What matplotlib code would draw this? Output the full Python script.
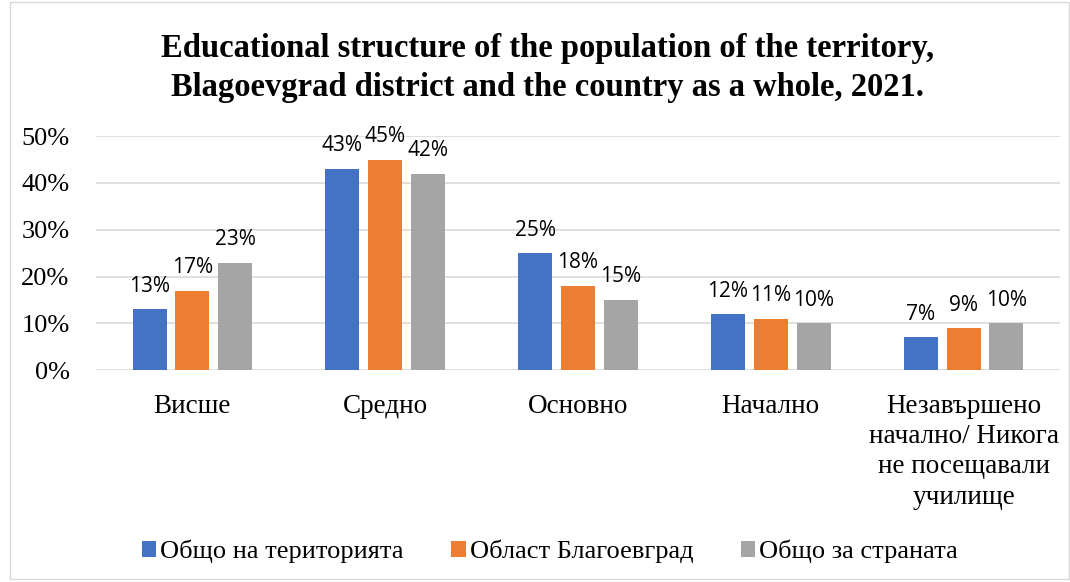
"""
grouped bar chart of the educational structure, Blagoevgrad 2021
"""

import numpy as np
import matplotlib.pyplot as plt
from matplotlib.patches import Rectangle

# data
CATEGORIES = ['Висше', 'Средно', 'Основно', 'Начално',
              'Незавършено\nначално/ Никога\nне посещавали\nучилище']
TERRITORY = [13, 43, 25, 12, 7]
DISTRICT = [17, 45, 18, 11, 9]
COUNTRY = [23, 42, 15, 10, 10]
SERIES_NAMES = ['Общо на територията', 'Област Благоевград', 'Общо за страната']
COLOURS = ['#4472c4', '#ed7d31', '#a5a5a5']

SERIF = 'Liberation Serif'
SANS = 'Open Sans'


def draw_chart(filename):
    fig = plt.figure(figsize=(10.7, 5.82), dpi=100)
    ax = fig.add_axes([0.0897, 0.364, 0.901, 0.402])

    x = np.arange(len(CATEGORIES))
    width = 0.176
    step = 0.222
    series = [TERRITORY, DISTRICT, COUNTRY]

    for i, (values, name, colour) in enumerate(zip(series, SERIES_NAMES, COLOURS)):
        pos = x + (i - 1) * step
        bars = ax.bar(pos, values, width, color=colour, label=name, zorder=3)
        for bar, v in zip(bars, values):
            ax.annotate(f'{v}%', (bar.get_x() + bar.get_width() / 2, v),
                        xytext=(0, 9), textcoords='offset points',
                        ha='center', va='bottom', fontsize=15,
                        family=SANS, color='#000000')

    ax.set_xlim(-0.5, len(CATEGORIES) - 0.5)
    ax.set_ylim(0, 50)
    ax.set_yticks(range(0, 51, 10))
    ax.set_yticklabels([f'{t}%' for t in range(0, 51, 10)],
                       family=SERIF, fontsize=19)
    ax.set_xticks(x)
    ax.set_xticklabels(CATEGORIES, family=SERIF, fontsize=19.5, linespacing=1.28)
    ax.tick_params(axis='x', length=0, pad=17)
    ax.tick_params(axis='y', length=0, pad=19)
    ax.yaxis.grid(True, color='#d9d9d9', linewidth=1.2, zorder=0)
    for spine in ax.spines.values():
        spine.set_visible(False)

    fig.text(0.512, 0.883, 'Educational structure of the population of the territory,\n'
             'Blagoevgrad district and the country as a whole, 2021.',
             ha='center', va='center', family=SERIF, fontweight='bold',
             fontsize=23.5, linespacing=1.33)

    fig.legend(loc='center', bbox_to_anchor=(0.514, 0.053), ncol=3,
               frameon=False, prop={'family': SERIF, 'size': 19},
               handlelength=0.55, handleheight=0.55, handletextpad=0.15,
               columnspacing=1.8)

    # light chart border
    fig.patches.append(Rectangle((0.009, 0.006), 0.99, 0.99, transform=fig.transFigure,
                                 fill=False, edgecolor='#d9d9d9', linewidth=1))

    plt.savefig(filename, dpi=100)


if __name__ == '__main__':
    draw_chart('out.png')
